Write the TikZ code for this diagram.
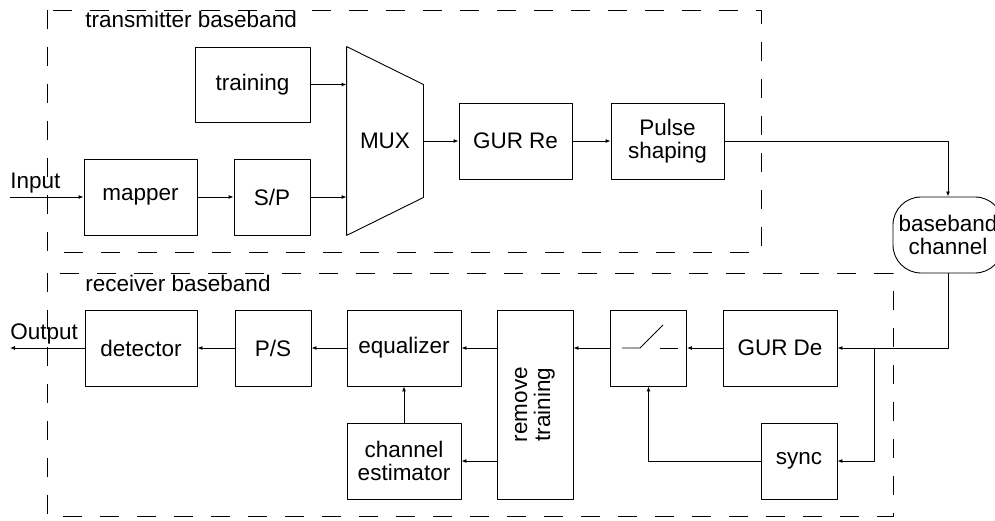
\documentclass[tikz,border=0pt]{standalone}
\usepackage{fontspec}
\setmainfont{Liberation Sans}
\usetikzlibrary{arrows.meta}

\begin{document}
\begin{tikzpicture}[>={Latex[length=5bp,width=4bp]},line join=bevel,line width=0.9bp,
  every node/.style={font=\fontsize{22.5bp}{23bp}\selectfont},
  block/.style={draw,minimum height=76bp,inner sep=0pt,align=center},
  wide/.style={block,minimum width=113bp},
  narrow/.style={block,minimum width=76bp},
  tag/.style={anchor=base west,inner sep=0pt},
  region/.style={draw,dash pattern=on 19bp off 18bp}]
\useasboundingbox (0bp,0bp) rectangle (995bp,521bp);
%% dashed regions
\draw [region] (47bp,511bp) rectangle (761bp,269bp);
\draw [region] (47bp,248bp) rectangle (893bp,5bp);
\node (txlabel) at (85bp,493bp) [tag] {transmitter baseband};
\node (rxlabel) at (85bp,229bp) [tag] {receiver baseband};
%% transmitter
\node (training) at (252.5bp,436.5bp) [wide,minimum width=115bp,minimum height=75bp] {training};
\node (mapper) at (140.5bp,324bp) [wide] {mapper};
\node (SP) at (272bp,324bp) [narrow] {S/P};
\node (MUX) at (385bp,380bp) [minimum width=76bp,minimum height=188bp,inner sep=0pt] {MUX};
\draw (MUX.north west) -- ([yshift=56.5bp]MUX.east) -- ([yshift=-56.5bp]MUX.east) -- (MUX.south west) -- cycle;
\node (GURRe) at (515.5bp,380bp) [wide] {GUR Re};
\node (pulse) at (667.5bp,380bp) [wide] {Pulse\\shaping};
\node (channel) at (948bp,286bp) [draw,rounded corners=28bp,minimum width=110bp,minimum height=76bp,inner sep=0pt,align=center] {baseband\\channel};
\coordinate (in) at (10bp,324bp);
\node (inlabel) at (10bp,332bp) [tag] {Input};
%% receiver
\node (GURDe) at (780bp,173bp) [wide,minimum width=114bp] {GUR De};
\node (switch) at (648.5bp,173bp) [narrow] {};
\draw ([xshift=-26.5bp]switch.center) -- ++(18bp,0bp) -- ++(23bp,23bp);
\draw ([xshift=11.5bp]switch.center) -- ++(18bp,0bp);
\node (remtrain) at (535bp,116.5bp) [narrow,minimum height=189bp] {};
\node (remtrainlabel) at (remtrain.center) [rotate=90,align=center] {remove\\training};
\node (eq) at (404bp,173bp) [wide,minimum width=114bp] {equalizer};
\node (chest) at (404bp,60bp) [wide,minimum width=114bp] {channel\\estimator};
\node (PS) at (273bp,173bp) [narrow] {P/S};
\node (detector) at (141bp,173bp) [wide,minimum width=112bp] {detector};
\node (sync) at (799bp,60bp) [narrow] {sync};
\coordinate (split) at (874bp,173bp);
\coordinate (out) at (10bp,173bp);
\node (outlabel) at (10bp,181bp) [tag] {Output};
%% signal flow
\draw [black,->] (in) -- (mapper);
\draw [black,->] (mapper) -- (SP);
\draw [black,->] (SP) -- (SP -| MUX.west);
\draw [black,->] (training) -- (training -| MUX.west);
\draw [black,->] (MUX.east) -- (GURRe);
\draw [black,->] (GURRe) -- (pulse);
\draw [black,->] (pulse) -| (channel);
\draw [black,->] (channel) |- (GURDe);
\draw [black,->] (split) |- (sync);
\draw [black,->] (sync) -| (switch);
\draw [black,->] (GURDe) -- (switch);
\draw [black,->] (switch) -- (switch -| remtrain.east);
\draw [black,->] (eq -| remtrain.west) -- (eq);
\draw [black,->] (chest -| remtrain.west) -- (chest);
\draw [black,->] (chest) -- (eq);
\draw [black,->] (eq) -- (PS);
\draw [black,->] (PS) -- (detector);
\draw [black,->] (detector) -- (out);
%
\end{tikzpicture}
\end{document}
